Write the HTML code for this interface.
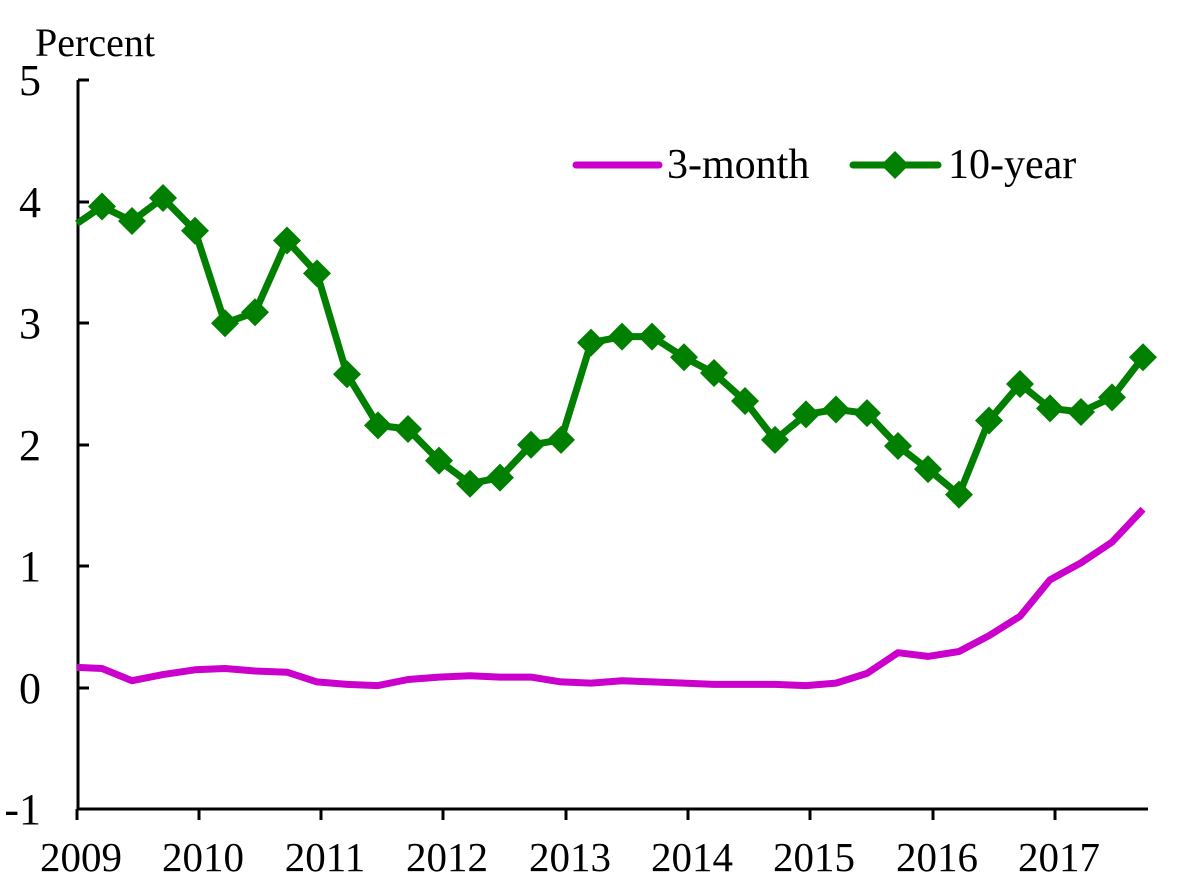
<!DOCTYPE html>
<html><head><meta charset="utf-8"><style>
html,body{margin:0;padding:0;background:#fff}
svg text{font-family:"Liberation Serif",serif;fill:#000}
</style></head><body>
<svg id="s" width="1200" height="887" viewBox="0 0 1200 887" xmlns="http://www.w3.org/2000/svg">
<text x="35" y="56" font-size="40">Percent</text>
<g font-size="44" text-anchor="end">
<text x="41" y="95">5</text>
<text x="41" y="217">4</text>
<text x="41" y="338">3</text>
<text x="41" y="460">2</text>
<text x="41" y="581">1</text>
<text x="41" y="703">0</text>
<text x="41" y="824">-1</text>
</g>
<g font-size="41" text-anchor="middle">
<text x="81" y="871">2009</text><text x="203" y="871">2010</text><text x="325" y="871">2011</text>
<text x="447" y="871">2012</text><text x="570" y="871">2013</text><text x="692" y="871">2014</text>
<text x="814" y="871">2015</text><text x="937" y="871">2016</text><text x="1059" y="871">2017</text>
</g>
<g stroke="#000" stroke-width="3" fill="none">
<path d="M78 80V809H1148"/>
<path d="M78 80H89M78 202H89M78 323H89M78 445H89M78 566H89M78 688H89"/>
<path d="M77 809V820M199 809V820M321 809V820M443 809V820M566 809V820M688 809V820M810 809V820M933 809V820M1055 809V820"/>
</g>
<g id="d"></g>
<line x1="576" y1="165" x2="659" y2="165" stroke="#CC00CC" stroke-width="7" stroke-linecap="round"/>
<text x="667" y="178" font-size="42">3-month</text>
<line x1="853" y1="165" x2="938" y2="165" stroke="#007F00" stroke-width="7" stroke-linecap="round"/>
<path d="M895 151L909 165L895 179L881 165Z" fill="#007F00"/>
<text x="948" y="178" font-size="42">10-year</text>
</svg>
<script>
var X=[102,132,163,195,225,255,287,317,347,378,408,439,470,500,531,561,591,622,652,684,714,745,775,806,836,867,898,928,959,989,1020,1050,1081,1112,1143];
var T=[3.96,3.84,4.03,3.76,3.0,3.09,3.68,3.41,2.58,2.16,2.13,1.87,1.68,1.73,2.0,2.04,2.84,2.89,2.89,2.72,2.59,2.36,2.04,2.25,2.29,2.26,1.99,1.80,1.59,2.20,2.50,2.30,2.27,2.39,2.72];
var M=[0.16,0.06,0.11,0.15,0.16,0.14,0.13,0.05,0.03,0.02,0.07,0.09,0.10,0.09,0.09,0.05,0.04,0.06,0.05,0.04,0.03,0.03,0.03,0.02,0.04,0.12,0.29,0.26,0.30,0.43,0.59,0.89,1.03,1.20,1.47];
function y(v){return 688-121.6*v}
var m="M77 "+y(0.17),t="M77 "+y(3.82),dm="";
for(var i=0;i<X.length;i++){m+=" L"+X[i]+" "+y(M[i]).toFixed(1);t+=" L"+X[i]+" "+y(T[i]).toFixed(1);
var yy=y(T[i]);dm+="M"+X[i]+" "+(yy-14)+"L"+(X[i]+14)+" "+yy+"L"+X[i]+" "+(yy+14)+"L"+(X[i]-14)+" "+yy+"Z";}
document.getElementById("d").innerHTML='<path d="'+m+'" fill="none" stroke="#CC00CC" stroke-width="7" stroke-linejoin="round"/><path d="'+t+'" fill="none" stroke="#007F00" stroke-width="7" stroke-linejoin="round"/><path d="'+dm+'" fill="#007F00"/>';
</script>
</body></html>
